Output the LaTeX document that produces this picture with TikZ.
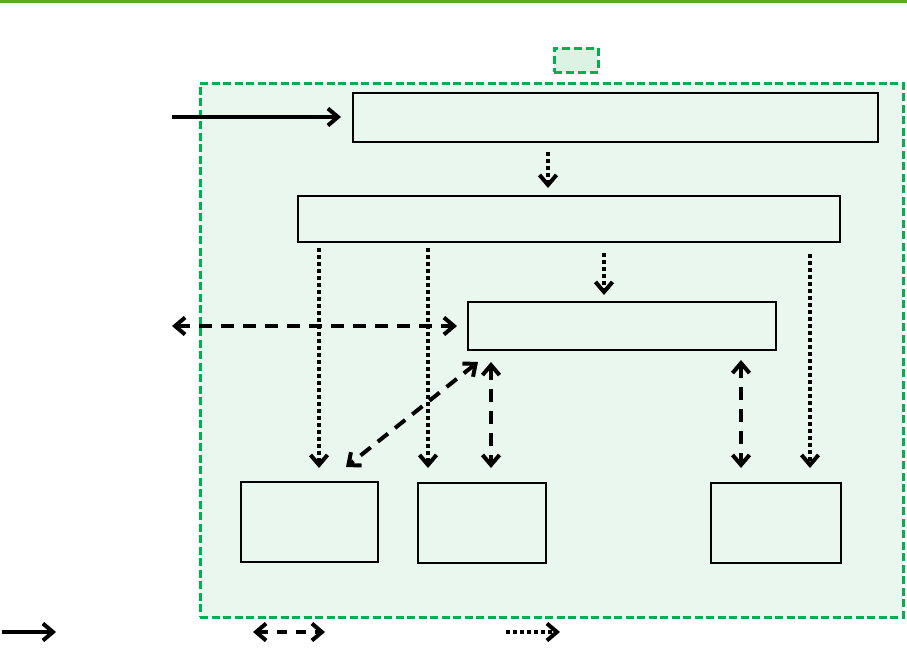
\documentclass[tikz,border=0pt]{standalone}
\usetikzlibrary{arrows.meta,calc}
\definecolor{topgreen}{HTML}{5AAB1E}
\definecolor{dgreen}{HTML}{00B050}
\definecolor{lgfill}{HTML}{EAF7EE}
\definecolor{smfill}{HTML}{DCF2E3}
\tikzset{
  box/.style={draw=black, line width=2.9pt, fill=lgfill, rectangle, inner sep=0pt, outer sep=0pt},
  barb/.tip={Straight Barb[length=10pt,width=17pt,line width=4pt]},
  tip/.style={-barb},
  tiptwo/.style={barb-barb},
  solidarrow/.style={tip, line width=4pt},
  dotarrow/.style={tip, line width=4pt, dash pattern=on 4pt off 3pt},
  dasharrow/.style={tiptwo, line width=4pt, dash pattern=on 13pt off 9pt},
}
\begin{document}
\begin{tikzpicture}[x=1pt,y=-1pt]
\useasboundingbox (0,0) rectangle (907,649);
\fill[white] (0,0) rectangle (907,649);
\draw[topgreen, line width=3pt] (0,1) -- (907,1);
% legend small box
\node[draw=dgreen, line width=3pt, dash pattern=on 8pt off 4pt, fill=smfill, minimum width=44pt, minimum height=24pt, inner sep=0pt] (legbox) at (576,60) {};
% container
\node[draw=dgreen, line width=3pt, dash pattern=on 8pt off 3.5pt, fill=lgfill, minimum width=703pt, minimum height=534pt, inner sep=0pt] (cont) at (551.5,350) {};
% boxes
\node[box, minimum width=525pt, minimum height=49pt] (A) at (615.5,117.5) {};
\node[box, minimum width=542pt, minimum height=46pt] (B) at (569,219) {};
\node[box, minimum width=308pt, minimum height=48pt] (C) at (622,326) {};
\node[box, minimum width=137pt, minimum height=80pt] (D) at (309.5,522) {};
\node[box, minimum width=128pt, minimum height=80pt] (E) at (482,523) {};
\node[box, minimum width=130pt, minimum height=80pt] (F) at (776,523) {};
% free ends
\coordinate (inA) at (172,117);
\coordinate (outC) at (172,326);
% solid input
\draw[solidarrow, shorten >=12pt] (inA) -- (A.west |- inA);
% dotted
\draw[dotarrow, shorten <=10pt, shorten >=8pt] (A.south -| 548,0) -- (B.north -| 548,0);
\draw[dotarrow, shorten <=11pt, shorten >=7pt] (B.south -| 604,0) -- (C.north -| 604,0);
\draw[dotarrow, shorten <=6pt, shorten >=14pt] (B.south -| 319,0) -- (D.north -| 319,0);
\draw[dotarrow, shorten <=6pt, shorten >=15pt] (B.south -| 428,0) -- (E.north -| 428,0);
\draw[dotarrow, shorten <=12pt, shorten >=15pt] (B.south -| 810,0) -- (F.north -| 810,0);
% dashed double
\draw[dasharrow, shorten >=11pt] (outC) -- (C.west |- outC);
\draw[dasharrow, shorten <=12pt, shorten >=15pt] (C.south -| 491,0) -- (E.north -| 491,0);
\draw[dasharrow, shorten <=10pt, shorten >=15pt] (C.south -| 741,0) -- (F.north -| 741,0);
\draw[dasharrow] ($(C.south west)+(10,12)$) -- ($(D.north east)+(-32,-15)$);
% legend
\coordinate (l1a) at (2,632); \coordinate (l1b) at (56,632);
\coordinate (l2a) at (253,632); \coordinate (l2b) at (325,632);
\coordinate (l3a) at (506,632); \coordinate (l3b) at (560,632);
\draw[solidarrow] (l1a) -- (l1b);
\draw[tiptwo, line width=4pt, dash pattern=on 10pt off 9pt] (l2a) -- (l2b);
\draw[dotarrow] (l3a) -- (l3b);
\end{tikzpicture}
\end{document}
